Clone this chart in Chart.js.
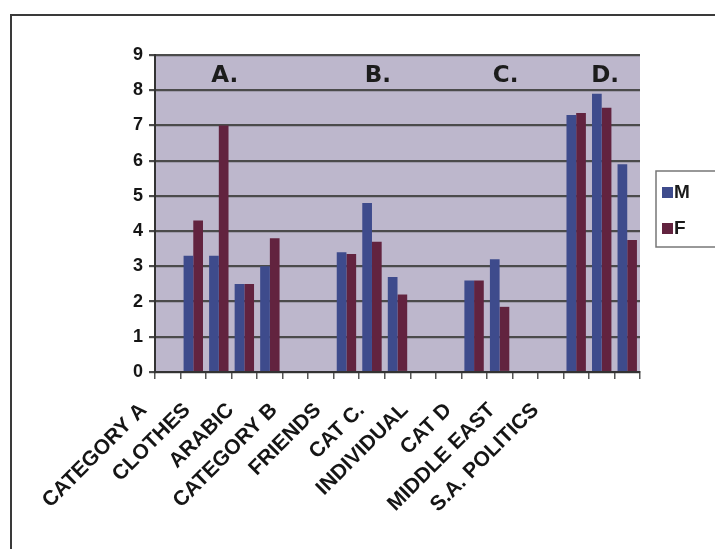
<!DOCTYPE html>
<html>
<head>
<meta charset="utf-8">
<script src="https://cdn.jsdelivr.net/npm/chart.js@4"></script>
<style>
  html, body { margin: 0; padding: 0; background: #ffffff; }
  #wrap { width: 715px; height: 549px; position: relative; }
</style>
</head>
<body>
<div id="wrap"><canvas id="c"></canvas></div>
<script>
// ---- data ----
const categories = ['CATEGORY A', '', 'CLOTHES', '', 'ARABIC', '', 'CATEGORY B', '', 'FRIENDS', '', 'CAT C.', '', 'INDIVIDUAL', '', 'CAT D', '', 'MIDDLE EAST', '', 'S.A. POLITICS'];
const tickLabels = ['CATEGORY A', 'CLOTHES', 'ARABIC', 'CATEGORY B', 'FRIENDS', 'CAT C.', 'INDIVIDUAL', 'CAT D', 'MIDDLE EAST', 'S.A. POLITICS'];
const seriesM = [null, 3.3, 3.3, 2.5, 3.0, null, null, 3.4, 4.8, 2.7, null, null, 2.6, 3.2, null, null, 7.3, 7.9, 5.9];
const seriesF = [null, 4.3, 7.0, 2.5, 3.8, null, null, 3.35, 3.7, 2.2, null, null, 2.6, 1.85, null, null, 7.35, 7.5, 3.75];
const seriesNames = ['M', 'F'];
const yTicks = [0, 1, 2, 3, 4, 5, 6, 7, 8, 9];
const groupNotes = ['A.', 'B.', 'C.', 'D.'];
const groupNoteSlots = [2, 8, 13, 16.9];

const colM = '#3e4b8c';
const colF = '#62233f';
const FONT = '"Liberation Sans", Arial, sans-serif';

const plotBg = {
  id: 'plotBg',
  beforeDraw(chart) {
    const { ctx, chartArea: a } = chart;
    ctx.save();
    ctx.strokeStyle = '#3a3a3a';
    ctx.lineWidth = 2;
    ctx.strokeRect(11, 15, 760, 600);
    ctx.fillStyle = '#bdb7cc';
    ctx.fillRect(a.left, a.top, a.right - a.left, a.bottom - a.top);
    ctx.restore();
  },
  afterDatasetsDraw(chart) {
    const { ctx } = chart;
    const xs = chart.scales.x, ys = chart.scales.y;
    ctx.save();
    ctx.fillStyle = '#1c1c1c';
    ctx.font = 'bold 23px "DejaVu Sans", sans-serif';
    ctx.textAlign = 'center';
    ctx.textBaseline = 'middle';
    groupNotes.forEach((t, i) => {
      ctx.fillText(t, xs.getPixelForValue(groupNoteSlots[i]) + 6, ys.getPixelForValue(8.4));
    });
    const lx = chart.chartArea.right + 16, ly = 171;
    ctx.fillStyle = '#ffffff';
    ctx.fillRect(lx, ly, 80, 76);
    ctx.strokeStyle = '#777';
    ctx.lineWidth = 1.5;
    ctx.strokeRect(lx, ly, 80, 76);
    const cols = [colM, colF];
    ctx.font = 'bold 19px ' + FONT;
    ctx.textAlign = 'left';
    seriesNames.forEach((n, i) => {
      const cy = ly + 21 + i * 36;
      ctx.fillStyle = cols[i];
      ctx.fillRect(lx + 6, cy - 5, 11, 11);
      ctx.fillStyle = '#1a1a1a';
      ctx.fillText(n, lx + 18, cy + 1);
    });
    ctx.restore();
  }
};

new Chart(document.getElementById('c'), {
  type: 'bar',
  data: {
    labels: categories,
    datasets: [
      { label: seriesNames[0], data: seriesM, backgroundColor: colM, borderWidth: 0 },
      { label: seriesNames[1], data: seriesF, backgroundColor: colF, borderWidth: 0 }
    ]
  },
  options: {
    responsive: true,
    maintainAspectRatio: false,
    animation: false,
    layout: { padding: { left: 0, top: 55, right: 75, bottom: 0 } },
    datasets: { bar: { categoryPercentage: 0.76, barPercentage: 1.0 } },
    plugins: { legend: { display: false }, tooltip: { enabled: false } },
    scales: {
      x: {
        type: 'category',
        position: 'bottom',
        weight: 0,
        grid: { drawOnChartArea: false, drawTicks: true, tickLength: 7, color: '#555', lineWidth: 1.5 },
        border: { display: true, color: '#333', width: 2 },
        ticks: { display: false },
        afterFit(s) { s.height = 8; }
      },
      xl: {
        type: 'linear',
        position: 'bottom',
        weight: 1,
        min: 0.82,
        max: 10.84,
        grid: { display: false },
        border: { display: false },
        afterBuildTicks(s) { s.ticks = tickLabels.map((_, i) => ({ value: i })); },
        ticks: {
          autoSkip: false,
          minRotation: 45,
          maxRotation: 45,
          padding: 10,
          color: '#151515',
          font: { family: FONT, size: 21, weight: 'bold' },
          callback: (v) => tickLabels[v] !== undefined ? tickLabels[v] : ''
        },
        afterFit(s) { s.height = 169; }
      },
      y: {
        min: 0,
        max: 9,
        afterBuildTicks(s) { s.ticks = yTicks.map(v => ({ value: v })); },
        grid: { color: '#4b4b4b', lineWidth: 2.2, tickLength: 6 },
        border: { display: true, color: '#333', width: 2 },
        ticks: {
          padding: 6,
          color: '#151515',
          font: { family: FONT, size: 18, weight: 'bold' }
        },
        afterFit(s) { s.width = 155; }
      }
    }
  },
  plugins: [plotBg]
});
</script>
</body>
</html>
